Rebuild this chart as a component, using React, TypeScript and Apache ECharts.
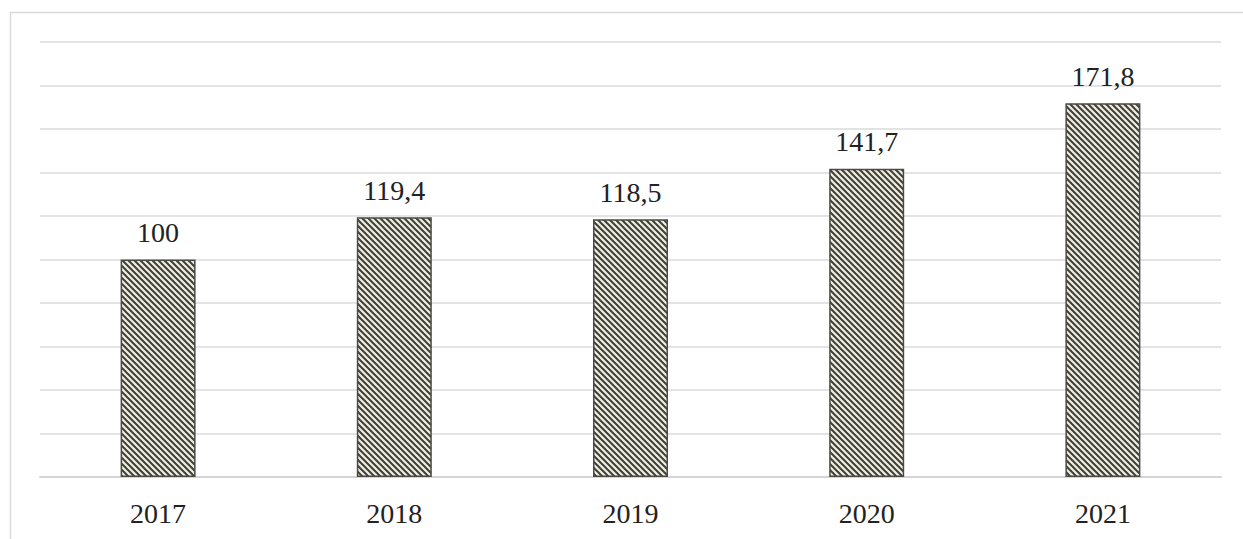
import React, { useEffect, useRef } from "react";
import * as echarts from "echarts";

const years = ["2017", "2018", "2019", "2020", "2021"];
const values = [100, 119.4, 118.5, 141.7, 171.8];
const yMin = 0;
const yMax = 200;
const yInterval = 20;

function makeHatch(): HTMLCanvasElement {
  const c = document.createElement("canvas");
  const s = 6;
  c.width = s;
  c.height = s;
  const ctx = c.getContext("2d")!;
  ctx.fillStyle = "#eeede4";
  ctx.fillRect(0, 0, s, s);
  ctx.strokeStyle = "#404036";
  ctx.lineWidth = 2;
  ctx.beginPath();
  ctx.moveTo(-s, -s);
  ctx.lineTo(2 * s, 2 * s);
  ctx.moveTo(-s, 0);
  ctx.lineTo(s, 2 * s);
  ctx.moveTo(0, -s);
  ctx.lineTo(2 * s, s);
  ctx.stroke();
  return c;
}

export default function App() {
  const ref = useRef<HTMLDivElement>(null);
  useEffect(() => {
    if (!ref.current) return;
    const chart = echarts.init(ref.current, null, { renderer: "svg" });
    const hatch = makeHatch();
    const font = "'Liberation Serif', 'Times New Roman', serif";
    chart.setOption({
      animation: false,
      backgroundColor: "#ffffff",
      graphic: [
        {
          type: "rect",
          shape: { x: 10.5, y: 12.5, width: 1400, height: 700 },
          style: { fill: "none", stroke: "#d9d9d9", lineWidth: 1.5 },
          silent: true,
        },
      ],
      grid: { left: 40, right: 22, top: 42, bottom: 62, containLabel: false },
      xAxis: {
        type: "category",
        data: years,
        axisLine: { show: true, lineStyle: { color: "#d4d4d4", width: 2 } },
        axisTick: { show: false },
        axisLabel: {
          color: "#222222",
          fontFamily: font,
          fontSize: 28,
          margin: 22,
        },
      },
      yAxis: {
        type: "value",
        min: yMin,
        max: yMax,
        interval: yInterval,
        axisLabel: { show: false },
        axisLine: { show: false },
        axisTick: { show: false },
        splitLine: { show: true, lineStyle: { color: "#e3e3e3", width: 2 } },
      },
      series: [
        {
          type: "bar",
          data: values,
          barWidth: 75,
          itemStyle: {
            color: { image: hatch, repeat: "repeat" },
            borderColor: "#4a4a44",
            borderWidth: 1.5,
          },
          label: {
            show: true,
            position: "top",
            distance: 13,
            color: "#222222",
            fontFamily: font,
            fontSize: 28,
            formatter: (p: any) => String(p.value).replace(".", ","),
          },
        },
      ],
    });
    return () => chart.dispose();
  }, []);
  return (
    <div
      ref={ref}
      style={{ position: "absolute", left: 0, top: 0, width: 1243, height: 539 }}
    />
  );
}
